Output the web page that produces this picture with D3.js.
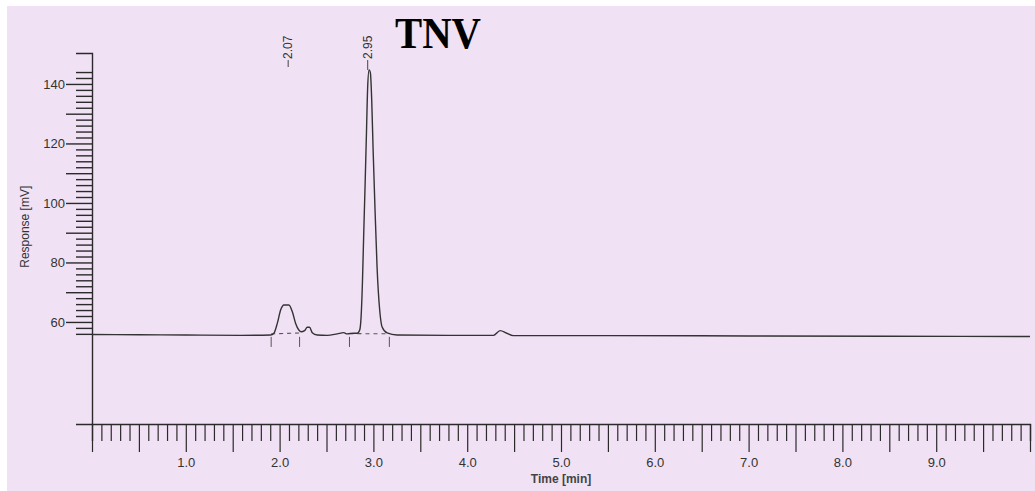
<!DOCTYPE html>
<html>
<head>
<meta charset="utf-8">
<script src="https://cdn.jsdelivr.net/npm/d3@7"></script>
<style>
  body { margin: 0; background: #fff; }
  svg { display: block; }
  text { font-family: "Liberation Sans", Arial, sans-serif; fill: #333; }
</style>
</head>
<body>
<svg id="chart" width="1035" height="491"></svg>
<script>
// chromatogram trace
var timeMin = [0.00, 0.50, 1.00, 1.585, 1.904, 1.939, 1.976, 2.011, 2.046, 2.099,
  2.135, 2.170, 2.205, 2.231, 2.266, 2.295, 2.319, 2.348, 2.401, 2.507,
  2.614, 2.684, 2.720, 2.790, 2.827, 2.854, 2.869, 2.883, 2.897, 2.912,
  2.926, 2.939, 2.954, 2.968, 2.982, 2.997, 3.014, 3.039, 3.067, 3.093,
  3.146, 3.252, 3.80, 4.28, 4.351, 4.422, 4.489, 5.5, 7.0, 8.5, 10.0];
var responseMV = [55.8, 55.7, 55.6, 55.5, 55.6, 56.2, 59.6, 64.0, 65.7, 65.7,
  63.5, 59.6, 57.3, 56.7, 57.1, 58.2, 58.2, 56.4, 55.6, 55.5,
  56.0, 56.4, 56.0, 56.2, 56.2, 57.3, 61.8, 73.1, 89.9, 106.7,
  123.5, 139.0, 144.7, 143.7, 134.6, 117.8, 101.0, 78.5, 64.0, 58.3,
  56.3, 55.6, 55.5, 55.5, 57.1, 56.2, 55.4, 55.4, 55.3, 55.2, 55.1];

// integration baselines (start, end) and marker times
var baseStart = [1.91, 2.745];
var baseEnd = [2.213, 3.17];
var baseStartMV = [56.0, 56.1];
var baseEndMV = [56.3, 56.0];
var markerTimes = [1.91, 2.213, 2.745, 3.17];

var peakLabels = [2.07, 2.95];
var yLabelValues = [60, 80, 100, 120, 140];
var xLabelValues = [1, 2, 3, 4, 5, 6, 7, 8, 9];

var svg = d3.select("#chart");

// paper background
svg.append("rect")
  .attr("x", 7).attr("y", 6)
  .attr("width", 1028).attr("height", 485)
  .attr("fill", "#f0e2f4");

var x = d3.scaleLinear().domain([0, 10]).range([92, 1030]);
var y = d3.scaleLinear().domain([25.7, 150.4]).range([424, 53]);

// Y axis
var yTicks = d3.range(56, 146, 2);
var yAxis = svg.append("g")
  .attr("transform", "translate(" + x(0) + ",0)")
  .call(d3.axisLeft(y)
    .tickValues(yTicks)
    .tickSizeOuter(0)
    .tickSize(16)
    .tickPadding(3)
    .tickFormat(function (d) { return yLabelValues.indexOf(d) >= 0 ? d : ""; }));
yAxis.select(".domain").attr("stroke", "#2a2a2a").attr("stroke-width", 1.4);
yAxis.selectAll(".tick line")
  .attr("stroke", "#2a2a2a")
  .attr("stroke-width", 1.4)
  .attr("x2", function (d) { return d % 10 == 0 ? -26 : -16; });
yAxis.selectAll(".tick text")
  .attr("x", -27)
  .style("font-size", "13px")
  .style("fill", "#333");

// X axis
var xTicks = d3.range(0, 101).map(function (i) { return i / 10; });
var xAxis = svg.append("g")
  .attr("transform", "translate(0," + y(25.7) + ")")
  .call(d3.axisBottom(x)
    .tickValues(xTicks)
    .tickSizeOuter(0)
    .tickSize(17)
    .tickFormat(function (d) {
      return xLabelValues.indexOf(Math.round(d * 10) / 10) >= 0 ? d3.format(".1f")(d) : "";
    }));
xAxis.select(".domain").attr("stroke", "#2a2a2a").attr("stroke-width", 1.4);
xAxis.selectAll(".tick line")
  .attr("stroke", "#2a2a2a")
  .attr("stroke-width", 1.2)
  .attr("y2", function (d) { return Math.round(d * 10) % 5 == 0 ? 28 : 17; });
xAxis.selectAll(".tick text")
  .attr("y", 34)
  .style("font-size", "13px")
  .style("fill", "#333");

// axis titles
svg.append("text")
  .attr("transform", "translate(29," + y(92) + ") rotate(-90)")
  .attr("text-anchor", "middle")
  .style("font-size", "12px")
  .text("Response [mV]");

svg.append("text")
  .attr("x", x(5))
  .attr("y", 483)
  .attr("text-anchor", "middle")
  .style("font-size", "12px")
  .style("font-weight", "bold")
  .style("fill", "#444")
  .text("Time [min]");

// integration baselines
baseStart.forEach(function (t, i) {
  svg.append("line")
    .attr("x1", x(t)).attr("y1", y(baseStartMV[i]))
    .attr("x2", x(baseEnd[i])).attr("y2", y(baseEndMV[i]))
    .attr("stroke", "#555")
    .attr("stroke-width", 1.1)
    .attr("stroke-dasharray", "4,4");
});
svg.selectAll(".marker")
  .data(markerTimes)
  .enter()
  .append("line")
  .attr("class", "marker")
  .attr("x1", function (d) { return x(d); })
  .attr("x2", function (d) { return x(d); })
  .attr("y1", y(55))
  .attr("y2", y(51.6))
  .attr("stroke", "#555")
  .attr("stroke-width", 1);

// trace
var trace = timeMin.map(function (t, i) { return [t, responseMV[i]]; });
svg.append("path")
  .datum(trace)
  .attr("fill", "none")
  .attr("stroke", "#333")
  .attr("stroke-width", 1.4)
  .attr("d", d3.line()
    .x(function (d) { return x(d[0]); })
    .y(function (d) { return y(d[1]); })
    .curve(d3.curveMonotoneX));

// retention time labels
peakLabels.forEach(function (t, i) {
  var px = x(t) + (i == 0 ? 2 : -1);
  svg.append("text")
    .attr("transform", "translate(" + px + ",59) rotate(-90)")
    .attr("dy", "0.35em")
    .style("font-size", "12px")
    .text(d3.format(".2f")(t));
  svg.append("line")
    .attr("x1", px).attr("x2", px)
    .attr("y1", 60)
    .attr("y2", i == 0 ? 67 : y(144.7))
    .attr("stroke", "#444")
    .attr("stroke-width", 1);
});

// title
svg.append("text")
  .attr("x", 438)
  .attr("y", 48)
  .attr("text-anchor", "middle")
  .attr("textLength", 86)
  .attr("lengthAdjust", "spacingAndGlyphs")
  .style("font-family", "'Liberation Serif', 'Times New Roman', serif")
  .style("font-weight", "bold")
  .style("font-size", "45px")
  .style("fill", "#000")
  .text("TNV");
</script>
</body>
</html>
